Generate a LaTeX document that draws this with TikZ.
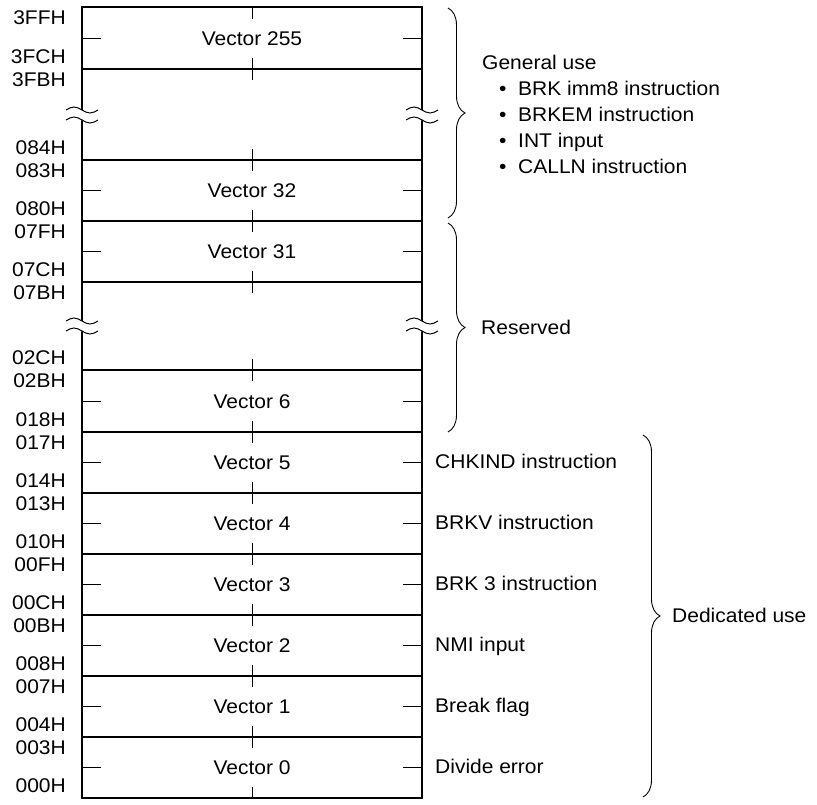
\documentclass[tikz,border=0pt]{standalone}
\usepackage{fontspec}
\setmainfont{Liberation Sans}[FakeStretch=1.06]
\usetikzlibrary{decorations.pathreplacing}
\newcommand\brkmark[2]{%
  \fill[white] (#1-16,#2-5) sin (#1-8,#2-8) cos (#1,#2-5) sin (#1+8,#2-2) cos (#1+16,#2-5)
    -- (#1+16,#2+5) sin (#1+8,#2+2) cos (#1,#2+5) sin (#1-8,#2+8) cos (#1-16,#2+5) -- cycle;
  \draw[wave] (#1-16,#2-5) sin (#1-8,#2-8) cos (#1,#2-5) sin (#1+8,#2-2) cos (#1+16,#2-5);
  \draw[wave] (#1-16,#2+5) sin (#1-8,#2+2) cos (#1,#2+5) sin (#1+8,#2+8) cos (#1+16,#2+5);
}
\begin{document}
\begin{tikzpicture}[x=1pt,y=-1pt,
  lbl/.style={font=\fontsize{19.8}{23}\selectfont, inner sep=0pt},
  addr/.style={lbl, anchor=base east},
  desc/.style={lbl, anchor=base west},
  vec/.style={lbl, anchor=base},
  boxedge/.style={line width=2.2pt},
  sepline/.style={line width=1.3pt},
  tickline/.style={line width=1pt},
  wave/.style={line width=1pt},
  brc/.style={decorate, decoration={brace, amplitude=17pt}, line width=0.9pt}]
\useasboundingbox (0,0) rectangle (817,804);

% horizontal separators
\foreach \yy in {69,160,221,282,370,432,493,554,615,676,737}
  \draw[sepline] (82,\yy) -- (422,\yy);
% centre ticks
\foreach \yy in {69,160,221,282,370,432,493,554,615,676,737}
  \draw[tickline] (252,\yy-11) -- (252,\yy+11);
\draw[tickline] (252,7) -- (252,19);
\draw[tickline] (252,787) -- (252,798);

% outer box
\draw[boxedge] (82,7) rectangle (422,798);

% vector rows
\foreach \yt/\yb/\vname [count=\i] in {7/69/Vector 255,160/221/Vector 32,221/282/Vector 31,370/432/Vector 6,432/493/Vector 5,493/554/Vector 4,554/615/Vector 3,615/676/Vector 2,676/737/Vector 1,737/798/Vector 0}{
  \pgfmathsetmacro\ym{(\yt+\yb)/2}
  \draw[tickline] (82,\ym) -- (101,\ym);
  \draw[tickline] (403,\ym) -- (422,\ym);
  \node[vec] (v\i) at (252,\ym+7) {\vname};
}

% address labels
\foreach \yt/\yb/\lt/\lb [count=\i] in {7/69/3FFH/3FCH,69/160/3FBH/084H,160/221/083H/080H,221/282/07FH/07CH,282/370/07BH/02CH,370/432/02BH/018H,432/493/017H/014H,493/554/013H/010H,554/615/00FH/00CH,615/676/00BH/008H,676/737/007H/004H,737/798/003H/000H}{
  \node[addr] (at\i) at (66,\yt+17.5) {\lt};
  \node[addr] (ab\i) at (66,\yb-6) {\lb};
}

% break marks
\brkmark{82}{115}
\brkmark{422}{115}
\brkmark{82}{326}
\brkmark{422}{326}

% braces
\coordinate (g1) at (448,8);
\coordinate (g2) at (448,218);
\coordinate (r1) at (448,223);
\coordinate (r2) at (448,432);
\coordinate (d1) at (643,435);
\coordinate (d2) at (643,797);
\draw[brc] (g1) -- (g2);
\draw[brc] (r1) -- (r2);
\draw[brc] (d1) -- (d2);

% general use text
\node[desc] (gen) at (482,69) {General use};
\foreach \yy/\txt [count=\i] in {95/BRK imm8 instruction,121/BRKEM instruction,147/INT input,173/CALLN instruction}{
  \node[desc] (bul\i) at (499,\yy) {•};
  \node[desc] (gt\i) at (518,\yy) {\txt};
}
\node[desc] (res) at (481,334) {Reserved};

% dedicated texts
\foreach \yt/\yb/\txt [count=\i] in {432/493/CHKIND instruction,493/554/BRKV instruction,554/615/BRK 3 instruction,615/676/NMI input,676/737/Break flag,737/798/Divide error}{
  \pgfmathsetmacro\ym{(\yt+\yb)/2}
  \node[desc] (dt\i) at (435,\ym+6) {\txt};
}
\node[desc] (ded) at (672,622) {Dedicated use};
\end{tikzpicture}
\end{document}
